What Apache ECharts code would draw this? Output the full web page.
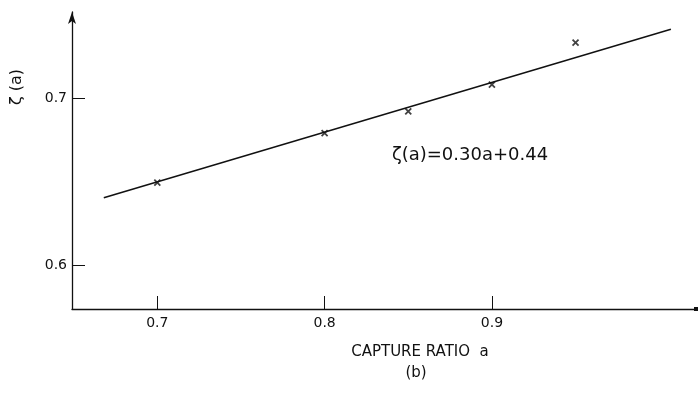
<!DOCTYPE html>
<html>
<head>
<meta charset="utf-8">
<script src="https://cdn.jsdelivr.net/npm/echarts@6/dist/echarts.min.js"></script>
<style>
  html, body { margin: 0; padding: 0; background: #fff; }
  #chart { width: 698px; height: 395px; }
</style>
</head>
<body>
<div id="chart"></div>
<script>
// measured points (capture ratio a, zeta(a))
const ratioX = [0.70, 0.80, 0.85, 0.90, 0.95];
const zetaY  = [0.6495, 0.679, 0.692, 0.708, 0.733];
// fitted line endpoints as drawn
const fitX = [0.668, 1.007];
const fitY = [0.6404, 0.741];
const xTicks = [0.7, 0.8, 0.9];
const yTicks = [0.6, 0.7];

const FONT = '"DejaVu Sans", sans-serif';
const chart = echarts.init(document.getElementById('chart'));

chart.setOption({
  animation: false,
  backgroundColor: '#fff',
  grid: { left: 72, top: 12, right: 2, bottom: 86 },
  xAxis: {
    type: 'value', min: 0.649, max: 1.022,
    splitLine: { show: false },
    axisLine: { lineStyle: { color: '#111', width: 1.3 }, symbol: ['none', 'rect'], symbolSize: [4, 4] },
    axisTick: { inside: true, length: 13, customValues: xTicks, lineStyle: { color: '#111', width: 1 } },
    axisLabel: { customValues: xTicks, margin: 7, fontSize: 14, color: '#111', fontFamily: FONT,
      formatter: function (v) { return v.toFixed(1); } }
  },
  yAxis: {
    type: 'value', min: 0.574, max: 0.7513,
    splitLine: { show: false },
    axisLine: { lineStyle: { color: '#111', width: 1.3 }, symbol: ['none', 'arrow'], symbolSize: [6, 12] },
    axisTick: { inside: true, length: 13, customValues: yTicks, lineStyle: { color: '#111', width: 1 } },
    axisLabel: { customValues: yTicks, margin: 5, fontSize: 14, color: '#111', fontFamily: FONT,
      formatter: function (v) { return v.toFixed(1); } }
  },
  series: [
    {
      type: 'line',
      data: fitX.map(function (x, i) { return [x, fitY[i]]; }),
      showSymbol: false,
      lineStyle: { color: '#111', width: 1.5 }
    },
    {
      type: 'scatter',
      data: ratioX.map(function (x, i) { return [x, zetaY[i]]; }),
      symbol: 'path://M0,0L10,10M10,0L0,10',
      symbolSize: 6,
      itemStyle: { color: 'transparent', borderColor: '#111', borderWidth: 1.8 }
    }
  ],
  graphic: [
    { type: 'text', x: 17, y: 87, rotation: Math.PI / 2, style: { text: 'ζ (a)', font: '16px ' + FONT, fill: '#111', textAlign: 'center', textVerticalAlign: 'middle' } },
    { type: 'text', x: 470, y: 155, style: { text: 'ζ(a)=0.30a+0.44', font: '18px ' + FONT, fill: '#111', textAlign: 'center', textVerticalAlign: 'middle' } },
    { type: 'text', x: 420, y: 352, style: { text: 'CAPTURE RATIO  a', font: '15px ' + FONT, fill: '#111', textAlign: 'center', textVerticalAlign: 'middle' } },
    { type: 'text', x: 416, y: 373, style: { text: '(b)', font: '15px ' + FONT, fill: '#111', textAlign: 'center', textVerticalAlign: 'middle' } }
  ]
});
</script>
</body>
</html>
